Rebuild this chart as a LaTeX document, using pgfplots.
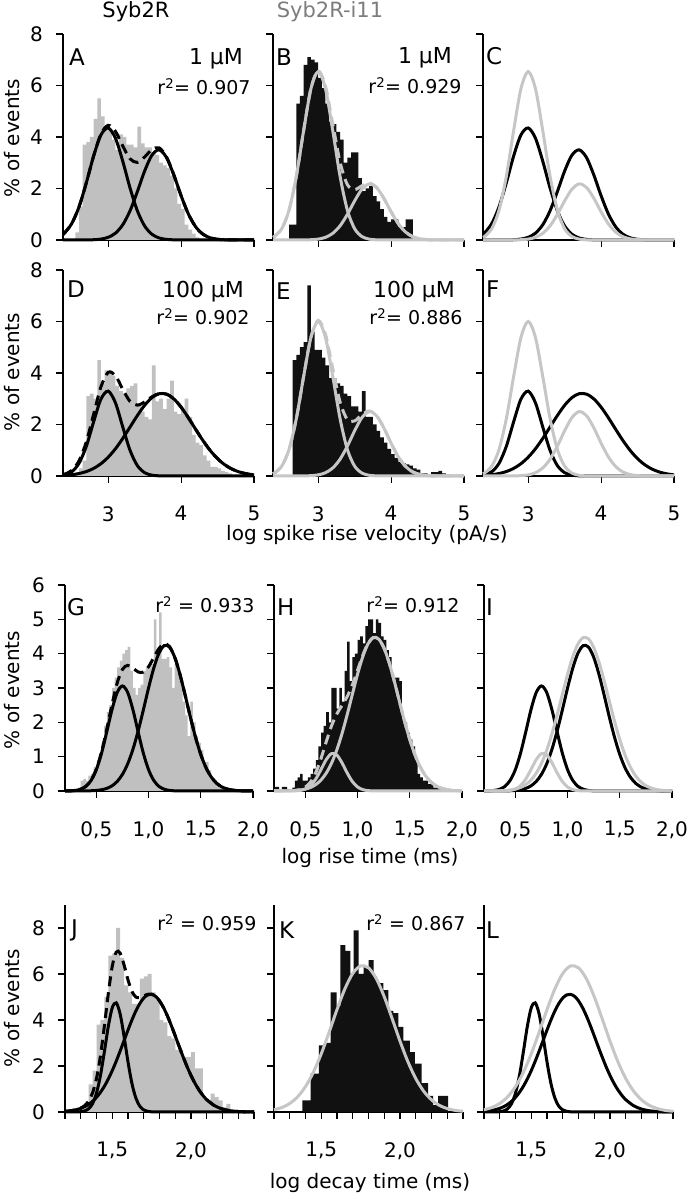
\documentclass[border=0pt]{standalone}
\usepackage{fontspec}
\setmainfont{DejaVu Sans}
\usepackage{pgfplots}
\usepackage{pgfplotstable}
\pgfplotsset{compat=1.18}

\definecolor{histgray}{RGB}{192,192,192}
\definecolor{curvegray}{RGB}{198,198,198}
\definecolor{histblack}{RGB}{17,17,17}
\definecolor{titlegray}{RGB}{125,125,125}

\pgfplotsset{
  panel/.style={
    scale only axis, anchor=south west, clip=false,
    axis x line*=bottom, axis y line*=left,
    tick align=outside, major tick length=7pt, minor tick length=7pt,
    axis line style={line width=1.1pt},
    tick style={line width=1.1pt, black},
    ymin=0,
    ticklabel style={font=\fontsize{20}{24}\selectfont, inner sep=1pt},
    xticklabel style={yshift=-22pt},
    yticklabel style={xshift=-12pt},
    /pgf/number format/assume math mode=true,
  },
  rowvel/.style={width=191pt, height=206pt, xmin=2.38, xmax=5, ymax=8,
    xtick={3,4,5}, ytick={0,2,4,6,8}},
  rowrise/.style={width=188pt, height=206pt, xmin=0.2, xmax=2.0, ymax=6,
    xtick={0.5,1,1.5,2}, xticklabels={{0,5},{1,0},{1,5},{2,0}},
    ytick={0,1,2,3,4,5,6}},
  rowdecay/.style={width=189pt, height=207pt, xmin=1.2, xmax=2.4, ymax=9,
    xtick={1.5,2}, xticklabels={{1,5},{2,0}},
    minor xtick={1.2,1.3,1.4,1.6,1.7,1.8,1.9,2.1,2.2,2.3,2.4},
    ytick={0,2,4,6,8}},
  noy/.style={yticklabels={}},
  nox/.style={xticklabels={}},
  hist/.style={const plot mark left, draw=none, fill=#1, no marks},
  comp/.style={smooth, no marks, line width=3pt, color=#1},
  tot/.style={smooth, no marks, line width=3pt, color=#1, dash pattern=on 10pt off 6pt},
}

% fitted components: x, first, second, sum
\pgfplotstableread{
x a b s
2.38 0.221 0 0.221
2.4 0.268 0 0.268
2.5 0.637 0 0.637
2.6 1.288 0 1.288
2.7 2.220 0.003 2.223
2.8 3.258 0.010 3.268
2.9 4.077 0.035 4.112
3.0 4.350 0.104 4.454
3.1 3.949 0.266 4.215
3.2 3.056 0.593 3.649
3.3 2.016 1.136 3.152
3.4 1.134 1.879 3.013
3.5 0.543 2.680 3.223
3.6 0.222 3.296 3.518
3.7 0.077 3.500 3.577
3.8 0.023 3.200 3.223
3.9 0.006 2.526 2.532
4.0 0 1.719 1.719
4.1 0 1.010 1.010
4.2 0 0.511 0.511
4.3 0 0.223 0.223
4.4 0 0.084 0.084
4.5 0 0.027 0.027
4.6 0 0.008 0.008
4.8 0 0 0
5.0 0 0 0
}\fitA
\pgfplotstableread{
x a b s
2.38 0.102 0 0.102
2.4 0.133 0 0.133
2.5 0.438 0 0.438
2.6 1.158 0 1.158
2.7 2.471 0 2.471
2.8 4.243 0.002 4.245
2.9 5.870 0.010 5.880
3.0 6.540 0.035 6.575
3.1 5.870 0.103 5.973
3.2 4.243 0.259 4.502
3.3 2.471 0.550 3.021
3.4 1.158 0.992 2.150
3.5 0.438 1.519 1.957
3.6 0.133 1.974 2.107
3.7 0.033 2.179 2.212
3.8 0.006 2.040 2.046
3.9 0 1.622 1.622
4.0 0 1.094 1.094
4.1 0 0.627 0.627
4.2 0 0.305 0.305
4.3 0 0.126 0.126
4.4 0 0.044 0.044
4.5 0 0.013 0.013
4.6 0 0.003 0.003
4.8 0 0 0
5.0 0 0 0
}\fitB
\pgfplotstableread{
x a b s
2.38 0.032 0.022 0.054
2.4 0.043 0.025 0.068
2.5 0.164 0.050 0.214
2.6 0.493 0.096 0.589
2.7 1.153 0.172 1.325
2.8 2.102 0.294 2.396
2.9 2.983 0.476 3.459
3.0 3.296 0.730 4.026
3.1 2.837 1.060 3.897
3.2 1.902 1.459 3.361
3.3 0.993 1.902 2.895
3.4 0.404 2.348 2.752
3.5 0.128 2.747 2.875
3.6 0.032 3.044 3.076
3.7 0.006 3.196 3.202
3.8 0 3.179 3.179
3.9 0 2.995 2.995
4.0 0 2.674 2.674
4.1 0 2.261 2.261
4.2 0 1.811 1.811
4.3 0 1.375 1.375
4.4 0 0.988 0.988
4.5 0 0.673 0.673
4.6 0 0.434 0.434
4.7 0 0.266 0.266
4.8 0 0.154 0.154
4.9 0 0.084 0.084
5.0 0 0.044 0.044
}\fitD
\pgfplotstableread{
x a b s
2.38 0.086 0 0.086
2.4 0.114 0 0.114
2.5 0.381 0 0.381
2.6 1.029 0 1.029
2.7 2.225 0 2.225
2.8 3.861 0.003 3.864
2.9 5.375 0.013 5.388
3.0 6.000 0.044 6.044
3.1 5.375 0.127 5.502
3.2 3.861 0.312 4.173
3.3 2.225 0.651 2.876
3.4 1.029 1.159 2.188
3.5 0.381 1.757 2.138
3.6 0.114 2.269 2.383
3.7 0.027 2.500 2.527
3.8 0.005 2.343 2.348
3.9 0 1.873 1.873
4.0 0 1.276 1.276
4.1 0 0.741 0.741
4.2 0 0.366 0.366
4.3 0 0.154 0.154
4.4 0 0.055 0.055
4.5 0 0.017 0.017
4.6 0 0.004 0.004
4.8 0 0 0
5.0 0 0 0
}\fitE
\pgfplotstableread{
x a b s
0.20 0.001 0 0.001
0.25 0.005 0 0.005
0.30 0.017 0 0.017
0.35 0.052 0.001 0.053
0.40 0.134 0.003 0.137
0.45 0.308 0.007 0.315
0.50 0.621 0.016 0.637
0.55 1.103 0.036 1.139
0.60 1.724 0.076 1.800
0.65 2.371 0.150 2.521
0.70 2.871 0.278 3.149
0.75 3.060 0.483 3.543
0.80 2.871 0.789 3.660
0.85 2.371 1.210 3.581
0.90 1.724 1.743 3.467
0.95 1.103 2.359 3.462
1.00 0.621 2.999 3.620
1.05 0.308 3.581 3.889
1.10 0.134 4.018 4.152
1.15 0.052 4.235 4.287
1.20 0.017 4.193 4.210
1.25 0.005 3.899 3.904
1.30 0.001 3.407 3.408
1.35 0 2.797 2.797
1.40 0 2.156 2.156
1.45 0 1.562 1.562
1.50 0 1.063 1.063
1.55 0 0.679 0.679
1.60 0 0.408 0.408
1.65 0 0.230 0.230
1.70 0 0.122 0.122
1.75 0 0.061 0.061
1.80 0 0.028 0.028
1.85 0 0.012 0.012
1.90 0 0.005 0.005
1.95 0 0.002 0.002
2.00 0 0.001 0.001
}\fitG
\pgfplotstableread{
x a b s
0.20 0 0 0
0.25 0 0.001 0.001
0.30 0 0.003 0.003
0.35 0.001 0.006 0.007
0.40 0.004 0.013 0.017
0.45 0.017 0.028 0.045
0.50 0.058 0.055 0.113
0.55 0.157 0.104 0.261
0.60 0.348 0.187 0.535
0.65 0.625 0.320 0.945
0.70 0.914 0.520 1.434
0.75 1.087 0.804 1.891
0.80 1.052 1.185 2.237
0.85 0.827 1.660 2.487
0.90 0.530 2.215 2.745
0.95 0.276 2.813 3.089
1.00 0.117 3.402 3.519
1.05 0.040 3.913 3.953
1.10 0.011 4.286 4.297
1.15 0.002 4.467 4.469
1.20 0 4.432 4.432
1.25 0 4.185 4.185
1.30 0 3.762 3.762
1.35 0 3.218 3.218
1.40 0 2.621 2.621
1.45 0 2.031 2.031
1.50 0 1.499 1.499
1.55 0 1.052 1.052
1.60 0 0.703 0.703
1.65 0 0.447 0.447
1.70 0 0.271 0.271
1.75 0 0.156 0.156
1.80 0 0.086 0.086
1.85 0 0.045 0.045
1.90 0 0.022 0.022
1.95 0 0.010 0.010
2.00 0 0.005 0.005
}\fitH
\pgfplotstableread{
x a b s
1.20 0 0.028 0.028
1.225 0 0.044 0.044
1.25 0 0.069 0.069
1.275 0.004 0.106 0.110
1.30 0.013 0.158 0.171
1.325 0.046 0.232 0.278
1.35 0.140 0.332 0.472
1.375 0.366 0.465 0.831
1.40 0.821 0.637 1.458
1.425 1.582 0.854 2.436
1.45 2.618 1.119 3.737
1.475 3.718 1.435 5.153
1.50 4.533 1.799 6.332
1.525 4.746 2.206 6.952
1.55 4.265 2.647 6.912
1.575 3.290 3.105 6.395
1.60 2.179 3.564 5.743
1.625 1.239 4.001 5.240
1.65 0.605 4.393 4.998
1.675 0.253 4.718 4.971
1.70 0.091 4.955 5.046
1.725 0.028 5.091 5.119
1.75 0.008 5.115 5.123
1.775 0.002 5.028 5.030
1.80 0 4.833 4.833
1.825 0 4.545 4.545
1.85 0 4.180 4.180
1.875 0 3.760 3.760
1.90 0 3.308 3.308
1.925 0 2.847 2.847
1.95 0 2.397 2.397
1.975 0 1.973 1.973
2.00 0 1.589 1.589
2.025 0 1.251 1.251
2.05 0 0.964 0.964
2.075 0 0.727 0.727
2.10 0 0.536 0.536
2.15 0 0.272 0.272
2.20 0 0.127 0.127
2.25 0 0.054 0.054
2.30 0 0.021 0.021
2.35 0 0.007 0.007
2.40 0 0.002 0.002
}\fitJ
\pgfplotstableread{
x a
1.20 0.096
1.25 0.195
1.30 0.371
1.35 0.661
1.40 1.105
1.45 1.728
1.50 2.530
1.55 3.469
1.60 4.453
1.65 5.353
1.70 6.025
1.75 6.351
1.80 6.268
1.85 5.793
1.90 5.013
1.95 4.061
2.00 3.082
2.05 2.189
2.10 1.456
2.15 0.907
2.20 0.529
2.25 0.289
2.30 0.148
2.35 0.071
2.40 0.032
}\fitK

% histograms: left bin edge, % of events
\pgfplotstableread{
x h
2.55 0.3
2.60 1.3
2.65 3.7
2.70 3.8
2.75 4.0
2.80 4.7
2.85 5.5
2.90 4.8
2.95 4.4
3.00 4.3
3.05 3.9
3.10 3.5
3.15 4.1
3.20 4.0
3.25 3.7
3.30 3.7
3.35 3.6
3.40 4.4
3.45 3.75
3.50 3.6
3.55 3.6
3.60 3.4
3.65 3.3
3.70 3.0
3.75 2.9
3.80 2.8
3.85 2.5
3.90 2.0
3.95 1.4
4.00 1.2
4.05 0.6
4.10 0.4
4.15 0.25
4.20 0.1
4.25 0.05
4.30 0
}\histA
\pgfplotstableread{
x h
2.60 0.6
2.65 0.6
2.70 5.3
2.75 5.6
2.80 6.8
2.85 7.1
2.90 7.0
2.95 6.9
3.00 6.3
3.05 5.9
3.10 5.3
3.15 4.6
3.20 4.5
3.25 4.2
3.30 3.9
3.35 3.0
3.40 3.2
3.45 3.4
3.50 3.4
3.55 2.4
3.60 1.9
3.65 2.0
3.70 2.1
3.75 1.7
3.80 1.5
3.85 1.2
3.90 0.9
3.95 0.7
4.00 0.8
4.05 0.8
4.10 0.5
4.15 0.5
4.20 0.8
4.25 0.8
4.30 0
}\histB
\pgfplotstableread{
x h
2.55 0.1
2.60 0.3
2.65 0.6
2.70 3.1
2.75 3.2
2.80 3.0
2.85 4.5
2.90 3.6
2.95 4.1
3.00 4.1
3.05 3.9
3.10 3.5
3.15 3.3
3.20 3.2
3.25 3.4
3.30 3.5
3.35 3.6
3.40 2.8
3.45 2.5
3.50 2.3
3.55 2.2
3.60 4.3
3.65 2.9
3.70 3.0
3.75 2.6
3.80 3.0
3.85 3.7
3.90 2.5
3.95 2.4
4.00 2.6
4.05 3.0
4.10 2.3
4.15 1.6
4.20 1.3
4.25 1.2
4.30 0.8
4.35 0.6
4.40 0.35
4.45 0.35
4.50 0.3
4.55 0.2
4.60 0.15
4.65 0.1
4.70 0
}\histD
\pgfplotstableread{
x h
2.65 4.5
2.70 4.7
2.75 5.0
2.80 5.2
2.85 7.4
2.90 5.6
2.95 4.9
3.00 4.9
3.05 4.6
3.10 4.3
3.15 3.8
3.20 3.8
3.25 3.6
3.30 3.5
3.35 3.2
3.40 3.1
3.45 2.7
3.50 2.7
3.55 2.5
3.60 3.3
3.65 2.3
3.70 2.3
3.75 2.0
3.80 1.75
3.85 1.5
3.90 1.3
3.95 1.05
4.00 0.85
4.05 0.7
4.10 0.55
4.15 0.5
4.20 0.45
4.25 0.4
4.30 0.3
4.35 0.25
4.40 0.1
4.45 0.1
4.50 0.05
4.55 0.15
4.60 0.15
4.65 0.2
4.70 0.1
4.75 0
}\histE
\pgfplotstableread{
x h
0.275 0.05
0.30 0.05
0.325 0.1
0.35 0.3
0.375 0.35
0.40 0.3
0.425 0.45
0.45 0.5
0.475 0.7
0.50 0.8
0.525 1.1
0.55 1.4
0.575 1.9
0.60 2.3
0.625 2.5
0.65 3.0
0.675 3.3
0.70 3.6
0.725 3.8
0.75 4.0
0.775 4.1
0.80 4.2
0.825 3.5
0.85 3.0
0.875 2.8
0.90 3.0
0.925 3.1
0.95 3.5
0.975 3.6
1.00 3.7
1.025 3.7
1.05 5.0
1.075 3.85
1.10 5.2
1.125 3.85
1.15 3.85
1.175 3.9
1.20 3.6
1.225 3.0
1.25 3.7
1.275 3.5
1.30 3.2
1.325 2.6
1.35 2.2
1.375 1.6
1.40 2.6
1.425 2.0
1.45 1.6
1.475 1.4
1.50 1.2
1.525 0.85
1.55 0.85
1.575 0.6
1.60 0.37
1.625 0.3
1.65 0.2
1.675 0.1
1.70 0.08
1.725 0.08
1.75 0.05
1.775 0.05
1.80 0.05
1.825 0
}\histG
\pgfplotstableread{
x h
0.20 0.12
0.225 0.12
0.25 0.0
0.275 0.12
0.30 0.12
0.325 0.05
0.35 0.05
0.375 0.1
0.40 0.3
0.425 0.4
0.45 0.5
0.475 0.3
0.50 0.3
0.525 0.4
0.55 0.5
0.575 0.65
0.60 0.9
0.625 1.3
0.65 1.7
0.675 1.9
0.70 2.3
0.725 2.0
0.75 3.0
0.775 3.0
0.80 2.4
0.825 3.0
0.85 2.6
0.875 3.5
0.90 4.35
0.925 3.2
0.95 3.9
0.975 4.0
1.00 4.4
1.025 4.5
1.05 4.3
1.075 4.8
1.10 5.0
1.125 5.0
1.15 4.6
1.175 5.0
1.20 4.9
1.225 4.5
1.25 4.4
1.275 4.1
1.30 3.9
1.325 3.4
1.35 3.3
1.375 3.3
1.40 3.2
1.425 2.1
1.45 2.0
1.475 1.7
1.50 1.5
1.525 1.3
1.55 0.9
1.575 0.5
1.60 0.4
1.625 0.3
1.65 0.3
1.675 0.2
1.70 0.2
1.725 0.1
1.75 0.1
1.775 0.05
1.80 0
}\histH
\pgfplotstableread{
x h
1.25 0.05
1.275 0.1
1.30 0.15
1.325 0.4
1.35 1.2
1.375 1.8
1.40 3.8
1.425 4.0
1.45 5.0
1.475 6.8
1.50 6.9
1.525 8.0
1.55 6.7
1.575 5.5
1.60 5.2
1.625 4.7
1.65 4.7
1.675 5.8
1.70 5.9
1.725 6.0
1.75 5.2
1.775 4.9
1.80 4.0
1.825 3.9
1.85 3.3
1.875 3.2
1.90 2.7
1.925 2.7
1.95 2.4
1.975 2.4
2.00 2.6
2.025 1.9
2.05 1.9
2.075 0.6
2.10 0.5
2.125 0.8
2.15 0.65
2.175 0.5
2.20 0.2
2.225 0.35
2.25 0.1
2.275 0.05
2.30 0
}\histJ
\pgfplotstableread{
x h
1.380 0.5
1.433 1.67
1.485 2.9
1.527 3.0
1.559 5.2
1.597 4.6
1.622 7.25
1.653 7.0
1.685 6.0
1.706 7.9
1.737 6.0
1.769 6.3
1.800 6.6
1.832 5.9
1.853 5.6
1.895 5.3
1.926 4.4
1.958 4.3
1.990 3.7
2.021 3.1
2.063 2.6
2.095 2.1
2.137 1.25
2.179 0.7
2.210 0.3
2.242 0.7
2.305 0
}\histK

\begin{document}
\begin{tikzpicture}[font=\fontsize{20}{24}\selectfont]
\useasboundingbox (0pt,0pt) rectangle (688pt,1199pt);

% ---- row 1: 1 uM, spike rise velocity
\begin{axis}[panel, rowvel, nox, at={(63pt,959pt)}]
\addplot[hist=histgray] table[x=x,y=h] {\histA} \closedcycle;
\addplot[comp=black] table[x=x,y=a] {\fitA};
\addplot[comp=black] table[x=x,y=b] {\fitA};
\addplot[tot=black] table[x=x,y=s] {\fitA};
\end{axis}
\begin{axis}[panel, rowvel, nox, noy, at={(273pt,959pt)}]
\addplot[hist=histblack] table[x=x,y=h] {\histB} \closedcycle;
\addplot[tot=curvegray] table[x=x,y=s] {\fitB};
\addplot[comp=curvegray] table[x=x,y=a] {\fitB};
\addplot[comp=curvegray] table[x=x,y=b] {\fitB};
\end{axis}
\begin{axis}[panel, rowvel, nox, noy, at={(483pt,959pt)}]
\addplot[comp=black] table[x=x,y=a] {\fitA};
\addplot[comp=black] table[x=x,y=b] {\fitA};
\addplot[comp=curvegray] table[x=x,y=a] {\fitB};
\addplot[comp=curvegray] table[x=x,y=b] {\fitB};
\end{axis}

% ---- row 2: 100 uM
\begin{axis}[panel, rowvel, at={(63pt,723pt)}]
\addplot[hist=histgray] table[x=x,y=h] {\histD} \closedcycle;
\addplot[comp=black] table[x=x,y=a] {\fitD};
\addplot[comp=black] table[x=x,y=b] {\fitD};
\addplot[tot=black] table[x=x,y=s] {\fitD};
\end{axis}
\begin{axis}[panel, rowvel, noy, at={(273pt,723pt)}]
\addplot[hist=histblack] table[x=x,y=h] {\histE} \closedcycle;
\addplot[tot=curvegray] table[x=x,y=s] {\fitE};
\addplot[comp=curvegray] table[x=x,y=a] {\fitE};
\addplot[comp=curvegray] table[x=x,y=b] {\fitE};
\end{axis}
\begin{axis}[panel, rowvel, noy, at={(483pt,723pt)}]
\addplot[comp=black] table[x=x,y=a] {\fitD};
\addplot[comp=black] table[x=x,y=b] {\fitD};
\addplot[comp=curvegray] table[x=x,y=a] {\fitE};
\addplot[comp=curvegray] table[x=x,y=b] {\fitE};
\end{axis}

% ---- row 3: rise time
\begin{axis}[panel, rowrise, at={(65pt,408pt)}]
\addplot[hist=histgray] table[x=x,y=h] {\histG} \closedcycle;
\addplot[comp=black] table[x=x,y=a] {\fitG};
\addplot[comp=black] table[x=x,y=b] {\fitG};
\addplot[tot=black] table[x=x,y=s] {\fitG};
\end{axis}
\begin{axis}[panel, rowrise, noy, at={(274pt,408pt)}]
\addplot[hist=histblack] table[x=x,y=h] {\histH} \closedcycle;
\addplot[tot=curvegray] table[x=x,y=s] {\fitH};
\addplot[comp=curvegray] table[x=x,y=a] {\fitH};
\addplot[comp=curvegray] table[x=x,y=b] {\fitH};
\end{axis}
\begin{axis}[panel, rowrise, noy, at={(484pt,408pt)}]
\addplot[comp=black] table[x=x,y=a] {\fitG};
\addplot[comp=black] table[x=x,y=b] {\fitG};
\addplot[comp=curvegray] table[x=x,y=a] {\fitH};
\addplot[comp=curvegray] table[x=x,y=b] {\fitH};
\end{axis}

% ---- row 4: decay time
\begin{axis}[panel, rowdecay, at={(65pt,87pt)}]
\addplot[hist=histgray] table[x=x,y=h] {\histJ} \closedcycle;
\addplot[comp=black] table[x=x,y=a] {\fitJ};
\addplot[comp=black] table[x=x,y=b] {\fitJ};
\addplot[tot=black] table[x=x,y=s] {\fitJ};
\end{axis}
\begin{axis}[panel, rowdecay, noy, at={(274pt,87pt)}]
\addplot[hist=histblack] table[x=x,y=h] {\histK} \closedcycle;
\addplot[comp=curvegray] table[x=x,y=a] {\fitK};
\end{axis}
\begin{axis}[panel, rowdecay, noy, at={(484pt,87pt)}]
\addplot[comp=black] table[x=x,y=a] {\fitJ};
\addplot[comp=black] table[x=x,y=b] {\fitJ};
\addplot[comp=curvegray] table[x=x,y=a] {\fitK};
\end{axis}

% ---- titles and labels
\node[font=\fontsize{21}{25}\selectfont] at (136pt,1187pt) {Syb2R};
\node[font=\fontsize{21}{25}\selectfont, text=titlegray] at (330pt,1187pt) {Syb2R-i11};

\foreach \lab/\x/\y in {A/69/1142, B/276/1142, C/486/1143,
                         D/67/910, E/276/908, F/486/910,
                         G/67/592, H/277/592, I/486/592,
                         J/71/269, K/279/269, L/486/269}
  \node[anchor=west, inner sep=0pt, font=\fontsize{23}{27}\selectfont] at (\x pt,\y pt) {\lab};

\begin{scope}[every node/.style={font=\fontsize{22}{26}\selectfont}]
\node at (216pt,1140pt) {1 µM};
\node at (425pt,1141pt) {1 µM};
\node at (203pt,907pt) {100 µM};
\node at (414pt,907pt) {100 µM};
\end{scope}
\begin{scope}[every node/.style={font=\fontsize{19}{23}\selectfont}]
\node at (204pt,1112pt) {r\textsuperscript{2}= 0.907};
\node at (415pt,1113pt) {r\textsuperscript{2}= 0.929};
\node at (203pt,882pt) {r\textsuperscript{2}= 0.902};
\node at (416pt,882pt) {r\textsuperscript{2}= 0.886};
\node at (205pt,594pt) {r\textsuperscript{2} = 0.933};
\node at (413pt,594pt) {r\textsuperscript{2}= 0.912};
\node at (207pt,276pt) {r\textsuperscript{2} = 0.959};
\node at (416pt,276pt) {r\textsuperscript{2} = 0.867};
\end{scope}

\foreach \y in {1061,827,509,191}
  \node[rotate=90] at (12pt,\y pt) {\% of events};

\begin{scope}[every node/.style={inner sep=1pt}]
\node at (367pt,664pt) {log spike rise velocity (pA/s)};
\node at (370pt,341pt) {log rise time (ms)};
\node at (370pt,16pt) {log decay time (ms)};
\end{scope}
\end{tikzpicture}
\end{document}
